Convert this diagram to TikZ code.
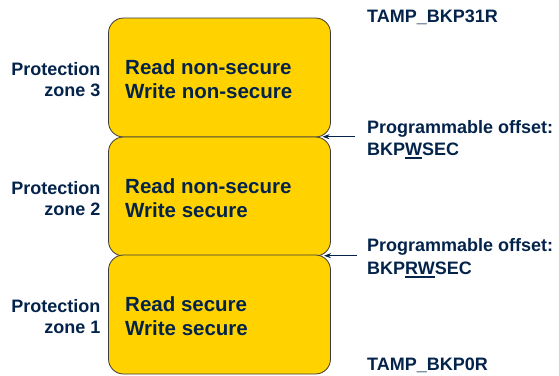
\documentclass[tikz,border=0pt]{standalone}
\usepackage{fontspec}
\setmainfont{Liberation Sans}
\usetikzlibrary{arrows.meta}
\definecolor{stnavy}{HTML}{03234B}
\definecolor{styellow}{HTML}{FFD200}
\definecolor{edgegray}{HTML}{3A3A3A}
% underline bar placed just below the baseline
\newcommand\barunder[1]{\setbox0\hbox{#1}\rlap{\color{stnavy}\rule[-4.3pt]{\wd0}{2pt}}\box0}
\tikzset{
  zonebox/.style={draw=edgegray, fill=styellow, line width=0.8pt, rounded corners=15pt,
    minimum width=222pt, minimum height=119pt, inner sep=0pt, outer sep=0pt},
  boxtext/.style={anchor=base west, inner sep=0pt, text=stnavy,
    font=\fontsize{20.5}{24}\selectfont\bfseries},
  sidetext/.style={inner sep=0pt, text=stnavy, font=\fontsize{18}{21}\selectfont\bfseries},
  pointer/.style={draw=stnavy, line width=0.75pt, -{Stealth[length=7pt,width=5pt]}}
}
\begin{document}
\begin{tikzpicture}[x=1pt,y=-1pt]
\useasboundingbox (0,0) rectangle (559,375);
% three stacked protection zones
\node[zonebox] (z3) at (219.5,77.5) {};
\node[zonebox] (z2) at (219.5,196.5) {};
\node[zonebox] (z1) at (219.5,314.5) {};
% access rights inside the zones
\node[boxtext] (z3a) at (125,74.3) {Read non-secure};
\node[boxtext] (z3b) at (125,98.3) {Write non-secure};
\node[boxtext] (z2a) at (125,193.3) {Read non-secure};
\node[boxtext] (z2b) at (125,217.3) {Write secure};
\node[boxtext] (z1a) at (125,311.3) {Read secure};
\node[boxtext] (z1b) at (125,335.3) {Write secure};
% zone names on the left
\node[sidetext, anchor=base east] (l3a) at (100.5,75) {Protection};
\node[sidetext, anchor=base east] (l3b) at (100.5,96) {zone 3};
\node[sidetext, anchor=base east] (l2a) at (100.5,194) {Protection};
\node[sidetext, anchor=base east] (l2b) at (100.5,215) {zone 2};
\node[sidetext, anchor=base east] (l1a) at (100.5,312) {Protection};
\node[sidetext, anchor=base east] (l1b) at (100.5,333) {zone 1};
% register names and offsets on the right
\node[sidetext, anchor=base west] (top) at (367,22.7) {TAMP\_BKP31R};
\node[sidetext, anchor=base west] (w1) at (367,133) {Programmable offset:};
\node[sidetext, anchor=base west] (w2) at (367,155) {BKP\barunder{W}SEC};
\node[sidetext, anchor=base west] (r1) at (367,251.7) {Programmable offset:};
\node[sidetext, anchor=base west] (r2) at (367,274) {BKP\barunder{RW}SEC};
\node[sidetext, anchor=base west] (bot) at (367,370) {TAMP\_BKP0R};
% pointers to the zone boundaries
\coordinate (wstart) at (355,136.7);
\coordinate (wend) at (322.5,136.7);
\coordinate (rstart) at (357,255.7);
\coordinate (rend) at (324,255.7);
\draw[pointer] (wstart) -- (wend);
\draw[pointer] (rstart) -- (rend);
\end{tikzpicture}
\end{document}
